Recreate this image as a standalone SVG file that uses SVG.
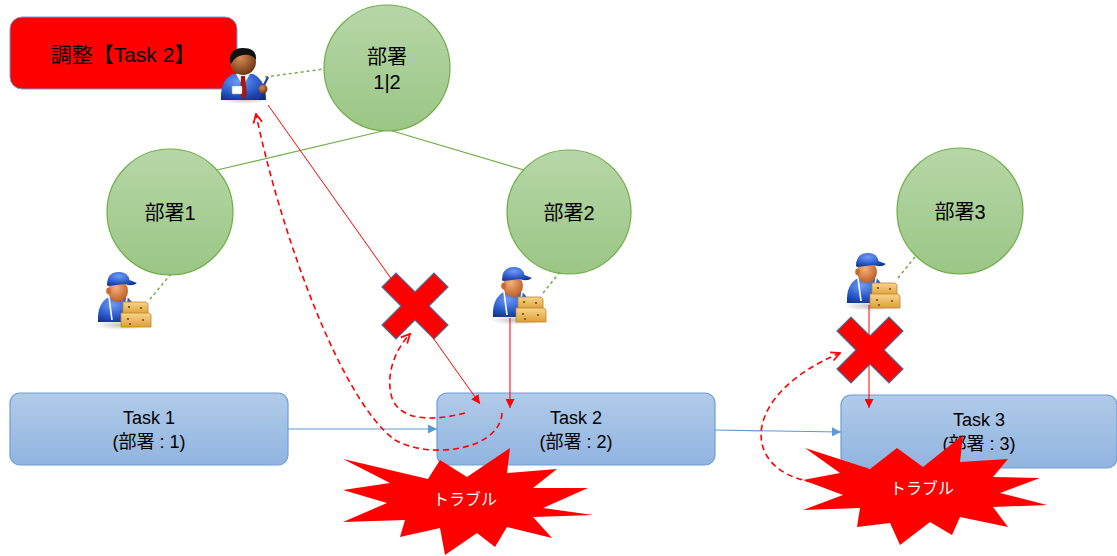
<svg xmlns="http://www.w3.org/2000/svg" width="1117" height="556" viewBox="0 0 1117 556">
  <style>
    .lbl { font-family: "Liberation Sans", "Noto Sans CJK JP", sans-serif; fill: #000; text-anchor: middle; }
    .circle { fill: url(#gCircle); stroke: #70ad47; stroke-width: 1.2; }
    .task { fill: url(#gTask); stroke: #6f9fd6; stroke-width: 1.2; }
    .tree { stroke: #70ad47; stroke-width: 1.2; fill: none; }
    .link { stroke: #70ad47; stroke-width: 1.5; stroke-dasharray: 3 3; fill: none; }
    .flow { stroke: #5b9bd5; stroke-width: 1.2; fill: none; marker-end: url(#aBlue); }
    .order { stroke: #ff0000; stroke-width: 1; fill: none; marker-end: url(#aRed); }
    .feedback { stroke: #ff0000; stroke-width: 1.6; stroke-dasharray: 6 4; fill: none; marker-end: url(#aOpen); }
    .cross { fill: #ff0000; stroke: #41719c; stroke-width: 1.2; }
    .burst { fill: #ff0000; }
    .burstTxt { font-family: "Noto Sans CJK JP", sans-serif; font-size: 16px; fill: #fff; text-anchor: middle; }
  </style>
  <defs>
    <linearGradient id="gCircle" x1="0" y1="0" x2="0" y2="1">
      <stop offset="0" stop-color="#b6d7a8"/>
      <stop offset="1" stop-color="#9bc685"/>
    </linearGradient>
    <linearGradient id="gTask" x1="0" y1="0" x2="0" y2="1">
      <stop offset="0" stop-color="#b1cbe9"/>
      <stop offset="1" stop-color="#91b4e0"/>
    </linearGradient>
    <radialGradient id="gBlue" cx="0.4" cy="0.3" r="0.8">
      <stop offset="0" stop-color="#6f9cf5"/>
      <stop offset="0.6" stop-color="#2656c8"/>
      <stop offset="1" stop-color="#102e80"/>
    </radialGradient>
    <radialGradient id="gSkinW" cx="0.4" cy="0.35" r="0.7">
      <stop offset="0" stop-color="#f5b27a"/>
      <stop offset="1" stop-color="#b85a25"/>
    </radialGradient>
    <radialGradient id="gSkinB" cx="0.4" cy="0.35" r="0.7">
      <stop offset="0" stop-color="#d48a55"/>
      <stop offset="1" stop-color="#6b3312"/>
    </radialGradient>
    <linearGradient id="gBox" x1="0" y1="0" x2="0" y2="1">
      <stop offset="0" stop-color="#f8d58a"/>
      <stop offset="1" stop-color="#dca03a"/>
    </linearGradient>
    <radialGradient id="gShadow" cx="0.5" cy="0.5" r="0.5">
      <stop offset="0" stop-color="#000" stop-opacity="0.25"/>
      <stop offset="1" stop-color="#000" stop-opacity="0"/>
    </radialGradient>
    <marker id="aBlue" viewBox="0 0 10 10" refX="10" refY="5" markerWidth="9" markerHeight="9" markerUnits="userSpaceOnUse" orient="auto">
      <path d="M0,0 L10,5 L0,10 Z" fill="#5b9bd5"/>
    </marker>
    <marker id="aRed" viewBox="0 0 10 10" refX="10" refY="5" markerWidth="9" markerHeight="9" markerUnits="userSpaceOnUse" orient="auto">
      <path d="M0,0 L10,5 L0,10 Z" fill="#ff0000"/>
    </marker>
    <marker id="aOpen" viewBox="0 0 10 10" refX="9" refY="5" markerWidth="11" markerHeight="11" markerUnits="userSpaceOnUse" orient="auto">
      <path d="M1,1 L9,5 L1,9" fill="none" stroke="#ff0000" stroke-width="1.6"/>
    </marker>
    <!-- delivery worker carrying boxes -->
    <g id="worker">
      <ellipse cx="22" cy="53" rx="27" ry="5" fill="url(#gShadow)"/>
      <path d="M-2,50 Q-3,31 9,25 L27,25 Q36,31 35,50 Z" fill="url(#gBlue)"/>
      <path d="M9,25 L12,48 M27,25 L24,48" stroke="#ffffff" stroke-width="1.6" fill="none"/>
      <ellipse cx="18" cy="19" rx="10" ry="11" fill="url(#gSkinW)"/>
      <ellipse cx="8.5" cy="19" rx="2.3" ry="3.2" fill="#c96a30"/>
      <path d="M7,13 Q7,0 19,0 Q28,0 29.5,8 L37,11 Q32,15 25,12 L8,14 Z" fill="url(#gBlue)"/>
      <path d="M23,30 L46,30 L48,32 L48,42 L23,42 Z" fill="url(#gBox)" stroke="#c0842a" stroke-width="0.8"/>
      <path d="M21,41 L49,41 L51,43 L51,55 L21,55 Z" fill="url(#gBox)" stroke="#c0842a" stroke-width="0.8"/>
      <circle cx="29" cy="35" r="1.1" fill="#7a4a12"/>
      <circle cx="41" cy="36" r="1.1" fill="#7a4a12"/>
      <circle cx="28" cy="47" r="1.1" fill="#7a4a12"/>
      <circle cx="30" cy="52" r="1.1" fill="#7a4a12"/>
      <circle cx="43" cy="48" r="1.1" fill="#7a4a12"/>
    </g>
  </defs>

  <!-- organisation tree lines -->
  <g id="tree-lines">
    <line class="tree" x1="387" y1="130" x2="217" y2="170"/>
    <line class="tree" x1="389" y1="130" x2="524" y2="170"/>
  </g>

  <!-- departments -->
  <g id="dept12">
    <circle class="circle" cx="387" cy="68" r="63"/>
    <text class="lbl" x="387" y="64" font-size="20">部署</text>
    <text class="lbl" x="387" y="89" font-size="20">1|2</text>
  </g>
  <g id="dept1">
    <circle class="circle" cx="170" cy="212" r="63"/>
    <text class="lbl" x="170" y="220" font-size="20">部署1</text>
  </g>
  <g id="dept2">
    <circle class="circle" cx="569" cy="212" r="62"/>
    <text class="lbl" x="569" y="220" font-size="20">部署2</text>
  </g>
  <g id="dept3">
    <circle class="circle" cx="960" cy="211" r="63"/>
    <text class="lbl" x="960" y="219" font-size="20">部署3</text>
  </g>

  <!-- coordination box -->
  <g id="coordination">
    <rect x="10" y="17" width="227" height="72" rx="12" fill="#ff0000" stroke="#6f9fd6" stroke-width="1"/>
    <text class="lbl" x="123" y="62" font-size="21">調整【Task 2】</text>
  </g>

  <!-- tasks -->
  <g id="task1">
    <rect class="task" x="10" y="393" width="278" height="72" rx="10"/>
    <text class="lbl" x="149" y="424" font-size="18">Task 1</text>
    <text class="lbl" x="149" y="448" font-size="18">(部署 : 1)</text>
  </g>
  <g id="task2">
    <rect class="task" x="437" y="393" width="278" height="72" rx="10"/>
    <text class="lbl" x="576" y="424" font-size="18">Task 2</text>
    <text class="lbl" x="576" y="448" font-size="18">(部署 : 2)</text>
  </g>
  <g id="task3">
    <rect class="task" x="841" y="395" width="276" height="73" rx="10"/>
    <text class="lbl" x="979" y="426" font-size="18">Task 3</text>
    <text class="lbl" x="979" y="450" font-size="18">(部署 : 3)</text>
  </g>

  <!-- blocked marks -->
  <g id="block1">
    <polygon class="cross" transform="translate(415,306)" points="-33,-19 -19,-33 0,-14 19,-33 33,-19 14,0 33,19 19,33 0,14 -19,33 -33,19 -14,0"/>
  </g>
  <g id="block2">
    <polygon class="cross" transform="translate(870,350)" points="-33,-19 -19,-33 0,-14 19,-33 33,-19 14,0 33,19 19,33 0,14 -19,33 -33,19 -14,0"/>
  </g>

  <!-- connectors -->
  <g id="connectors">
    <line class="link" x1="265" y1="77" x2="324" y2="69"/>
    <line class="link" x1="171" y1="274" x2="150" y2="299"/>
    <line class="link" x1="560" y1="272" x2="543" y2="293"/>
    <line class="link" x1="915" y1="257" x2="898" y2="278"/>
    <line class="flow" x1="288" y1="429" x2="437" y2="429"/>
    <line class="flow" x1="715" y1="430" x2="841" y2="432"/>
    <line class="order" x1="268" y1="105" x2="480" y2="404"/>
    <line class="order" x1="510" y1="318" x2="510" y2="408"/>
    <line class="order" x1="869" y1="305" x2="869" y2="408"/>
    <path class="feedback" d="M502,413 C500,450 430,460 395,440 C340,400 280,230 256,114"/>
    <path class="feedback" d="M465,413 C430,422 400,420 392,398 C385,375 395,350 410,334"/>
    <path class="feedback" d="M812,482 C740,470 740,395 840,353"/>
  </g>

  <!-- trouble bursts -->
  <g id="trouble1">
    <polygon class="burst" points="343,459 428,479 440,460 467,477 510,448 507,473 557,469 533,488 588,488 543,508 593,515 533,517 552,538 507,527 495,547 477,533 445,555 440,528 400,537 405,520 343,522 387,503 343,490 390,483"/>
    <text class="burstTxt" x="465" y="505">トラブル</text>
  </g>
  <g id="trouble2">
    <polygon class="burst" points="805,448 870,469 897,448 923,467 963,435 960,462 1008,459 993,477 1040,478 1000,493 1047,505 993,507 1008,527 960,517 952,535 930,522 900,545 890,523 857,527 860,508 803,510 843,495 803,480 840,473"/>
    <text class="burstTxt" x="922" y="494">トラブル</text>
  </g>

  <!-- coordinator -->
  <g id="coordinator">
    <ellipse cx="244" cy="99" rx="26" ry="5" fill="url(#gShadow)"/>
    <path d="M221,100 Q220,80 233,74 L253,74 Q266,80 266,100 Z" fill="url(#gBlue)"/>
    <path d="M236,74 L243,86 L250,74 Z" fill="#ffffff"/>
    <path d="M241,76 L245,76 L247,95 L243,99 L240,95 Z" fill="#a01818"/>
    <rect x="232" y="86" width="10" height="8" rx="1" fill="#ffffff" stroke="#9aa" stroke-width="0.5"/>
    <circle cx="243" cy="62" r="13" fill="url(#gSkinB)"/>
    <path d="M230,62 Q229,48 243,48 Q257,48 256,60 Q252,54 243,55 Q235,56 231,64 Z" fill="#111111"/>
    <line x1="257" y1="99" x2="268" y2="77" stroke="#2a3ab8" stroke-width="2.2"/>
    <circle cx="263" cy="89" r="4.5" fill="url(#gSkinB)"/>
  </g>

  <!-- workers -->
  <g id="worker1"><use href="#worker" transform="translate(100,272)"/></g>
  <g id="worker2"><use href="#worker" transform="translate(495,267)"/></g>
  <g id="worker3"><use href="#worker" transform="translate(849,253)"/></g>
</svg>
